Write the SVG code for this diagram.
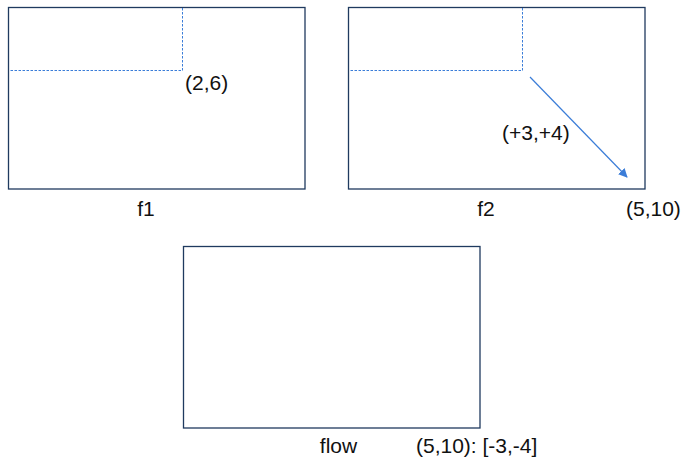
<svg xmlns="http://www.w3.org/2000/svg" width="683" height="463" viewBox="0 0 683 463">
<defs>
<style>
.box{fill:#fff;stroke:#1f3a5f;stroke-width:1.3}
.dash{fill:none;stroke:#3b7dd8;stroke-width:1;stroke-dasharray:2.5,1.5}
.lbl{font-family:"Liberation Sans",Arial,sans-serif;font-size:21px;fill:#111}
</style>
<marker id="ah" viewBox="0 0 10 10" refX="9" refY="5" markerWidth="9" markerHeight="9" markerUnits="userSpaceOnUse" orient="auto"><path d="M0,0 L10,5 L0,10 z" fill="#3b7dd8"/></marker>
</defs>
<rect width="683" height="463" fill="#fff"/>
<g id="f1">
<rect class="box" x="8.5" y="7.5" width="296.5" height="181.5"/>
<path class="dash" d="M182.5,8 V70.5 H9"/>
<text class="lbl" x="185" y="90">(2,6)</text>
<text class="lbl" x="146" y="216" text-anchor="middle">f1</text>
</g>
<g id="f2">
<rect class="box" x="348.5" y="7.5" width="296.5" height="181.5"/>
<path class="dash" d="M522.5,8 V70.5 H349"/>
<text class="lbl" x="502" y="140">(+3,+4)</text>
<text class="lbl" x="486" y="216" text-anchor="middle">f2</text>
<text class="lbl" x="626" y="216">(5,10)</text>
</g>
<g id="flow">
<rect class="box" x="183.5" y="246.5" width="296.5" height="181.5"/>
<text class="lbl" x="338.5" y="453" text-anchor="middle">flow</text>
<text class="lbl" x="416" y="453">(5,10): [-3,-4]</text>
</g>
<g id="connectors">
<line x1="530" y1="77" x2="627" y2="177" stroke="#3b7dd8" stroke-width="1.2" marker-end="url(#ah)"/>
</g>
</svg>
